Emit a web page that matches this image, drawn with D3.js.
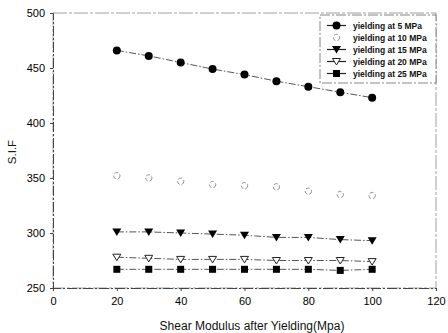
<!DOCTYPE html>
<html>
<head>
<meta charset="utf-8">
<script src="https://cdn.jsdelivr.net/npm/d3@7"></script>
<style>
  body { margin: 0; background: #fff; }
  svg { font-family: "Liberation Sans", Arial, sans-serif; }
</style>
</head>
<body>
<div id="chart"></div>
<script>
// data
var modulus = [20, 30, 40, 50, 60, 70, 80, 90, 100];
var y5  = [466, 461, 455, 449, 444, 438, 433, 428, 423];
var y10 = [352, 350, 347, 344, 343, 342, 338, 335, 334];
var y15 = [301, 301, 300, 299, 298, 296, 296, 294, 293];
var y20 = [278, 277, 276, 276, 276, 275, 275, 275, 274];
var y25 = [267, 267, 267, 267, 267, 267, 267, 266, 267];
var seriesNames = ["yielding at 5 MPa", "yielding at 10 MPa", "yielding at 15 MPa", "yielding at 20 MPa", "yielding at 25 MPa"];
var xTicks = [0, 20, 40, 60, 80, 100, 120];
var yTicks = [250, 300, 350, 400, 450, 500];

var series = [
  {name: seriesNames[0], values: y5,  marker: "circle",   line: true},
  {name: seriesNames[1], values: y10, marker: "ocircle",  line: false},
  {name: seriesNames[2], values: y15, marker: "tri",      line: true},
  {name: seriesNames[3], values: y20, marker: "otri",     line: true},
  {name: seriesNames[4], values: y25, marker: "square",   line: true}
];

var W = 448, H = 333;
var margin = {top: 13, right: 12, bottom: 45, left: 53};
var width = W - margin.left - margin.right,
    height = H - margin.top - margin.bottom;

var svg = d3.select("#chart").append("svg")
  .attr("width", W).attr("height", H);
var g = svg.append("g")
  .attr("transform", "translate(" + margin.left + "," + margin.top + ")");

var x = d3.scaleLinear().domain([0, 120]).range([0, width]);
var y = d3.scaleLinear().domain([250, 500]).range([height, 0]);

// frame
g.append("rect")
  .attr("width", width).attr("height", height)
  .attr("fill", "none").attr("stroke", "#888").attr("stroke-width", 0.8)
  .attr("stroke-dasharray", "14,2,3,2");

var xAxis = g.append("g")
  .attr("transform", "translate(0," + height + ")")
  .call(d3.axisBottom(x).tickValues(xTicks).tickSize(3).tickPadding(6));
var yAxis = g.append("g")
  .call(d3.axisLeft(y).tickValues(yTicks).tickSize(3).tickPadding(5));
[xAxis, yAxis].forEach(function(a) {
  a.select(".domain").attr("stroke", "#444").attr("stroke-dasharray", "10,2,2,2");
  a.selectAll(".tick line").attr("stroke", "#444");
  a.selectAll("text").attr("font-size", 11).attr("fill", "#000");
});

// titles
svg.append("text")
  .attr("x", 252).attr("y", 330)
  .attr("text-anchor", "middle").attr("font-size", 12).attr("fill", "#111")
  .text("Shear Modulus after Yielding(Mpa)");
svg.append("text")
  .attr("transform", "translate(16,152) rotate(-90)")
  .attr("text-anchor", "middle").attr("font-size", 11.5).attr("fill", "#111")
  .text("S.I.F");

function drawMarker(sel, m, cx, cy) {
  if (m === "circle") {
    sel.append("circle").attr("cx", cx).attr("cy", cy).attr("r", 4).attr("fill", "#000");
  } else if (m === "ocircle") {
    sel.append("circle").attr("cx", cx).attr("cy", cy).attr("r", 3.2)
      .attr("fill", "none").attr("stroke", "#888").attr("stroke-width", 0.9)
      .attr("stroke-dasharray", "4,2");
  } else if (m === "tri") {
    sel.append("path").attr("d", "M" + (cx - 4.5) + "," + (cy - 3.5) + "L" + (cx + 4.5) + "," + (cy - 3.5) + "L" + cx + "," + (cy + 4) + "Z")
      .attr("fill", "#000");
  } else if (m === "otri") {
    sel.append("path").attr("d", "M" + (cx - 4) + "," + (cy - 3) + "L" + (cx + 4) + "," + (cy - 3) + "L" + cx + "," + (cy + 3.5) + "Z")
      .attr("fill", "#fff").attr("stroke", "#222").attr("stroke-width", 1);
  } else {
    sel.append("rect").attr("x", cx - 3.5).attr("y", cy - 3.5).attr("width", 7).attr("height", 7).attr("fill", "#000");
  }
}

var line = d3.line()
  .x(function(d, i) { return x(modulus[i]); })
  .y(function(d) { return y(d); });

series.forEach(function(s) {
  if (s.line) {
    g.append("path").datum(s.values)
      .attr("d", line).attr("fill", "none")
      .attr("stroke", "#555").attr("stroke-width", 1)
      .attr("stroke-dasharray", "7,2,1.5,2");
  }
  var mg = g.append("g");
  s.values.forEach(function(v, i) { drawMarker(mg, s.marker, x(modulus[i]), y(v)); });
});

// legend
var lg = svg.append("g").attr("transform", "translate(320,15)");
lg.append("rect").attr("width", 116).attr("height", 68)
  .attr("fill", "#fff").attr("stroke", "#666").attr("stroke-width", 0.8)
  .attr("stroke-dasharray", "10,2,2,2");
series.forEach(function(s, i) {
  var cy = 10.5 + i * 12;
  if (s.line) {
    lg.append("line").attr("x1", 7).attr("x2", 26).attr("y1", cy).attr("y2", cy)
      .attr("stroke", "#222").attr("stroke-width", 1.2);
  }
  drawMarker(lg, s.marker, 16.5, cy);
  lg.append("text").attr("x", 33).attr("y", cy + 3)
    .attr("font-size", 8.5).attr("font-weight", "bold").attr("fill", "#111")
    .text(s.name);
});
</script>
</body>
</html>
